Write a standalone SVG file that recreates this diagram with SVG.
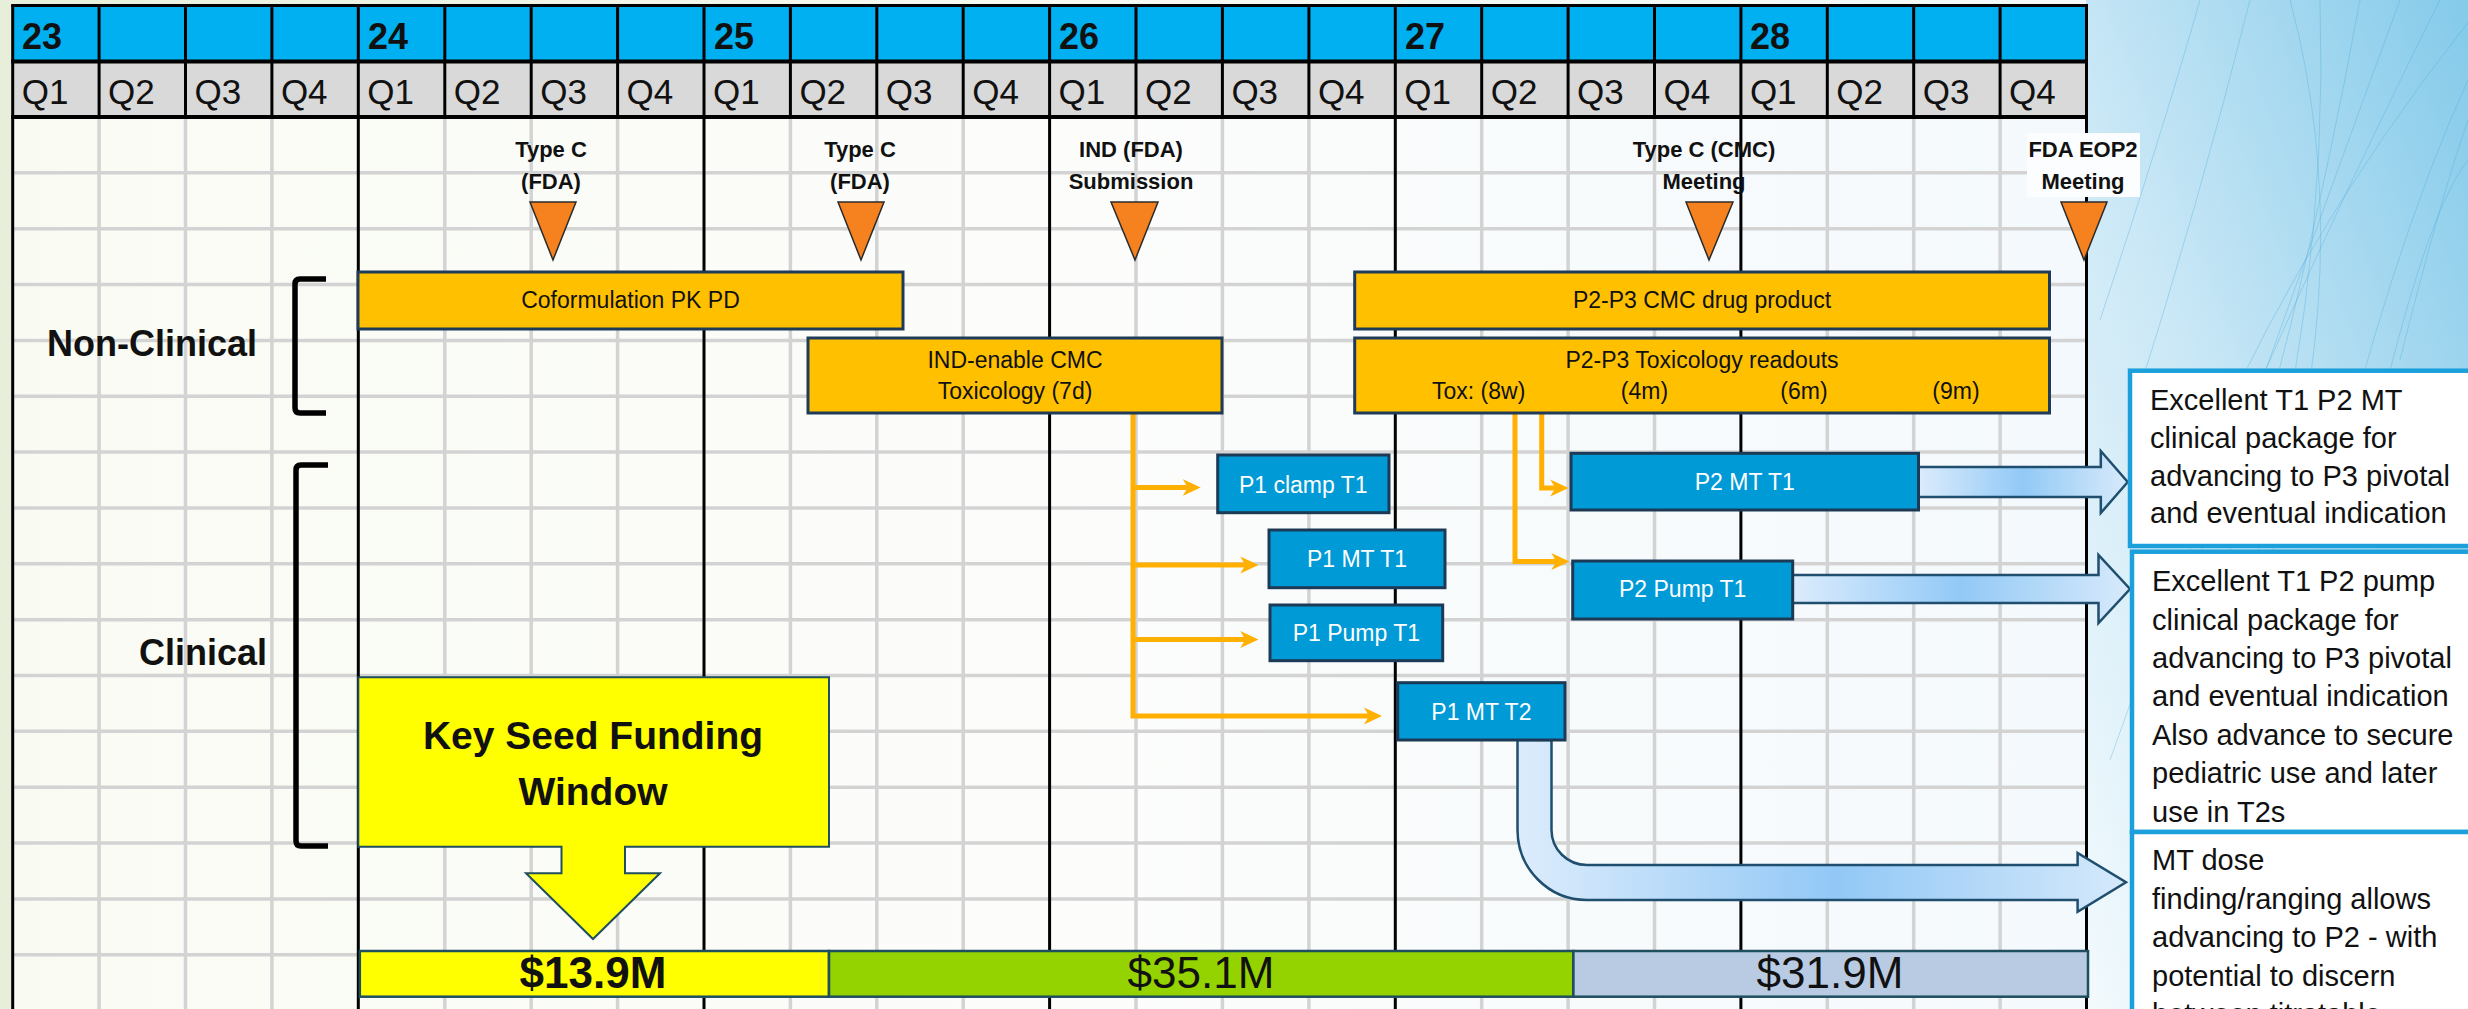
<svg xmlns="http://www.w3.org/2000/svg" width="2468" height="1009" viewBox="0 0 2468 1009">
<defs>
<style>
.t{font-family:"Liberation Sans",Arial,sans-serif;fill:#111}
.hy{font-size:36px;font-weight:bold}
.hq{font-size:35px}
.ms{font-size:22px;font-weight:bold;text-anchor:middle}
.lbl{font-size:36px;font-weight:bold}
.bx{font-size:23px;text-anchor:middle}
.wb{font-size:23px;text-anchor:middle;fill:#fff}
.side{font-size:29px}
.gh{stroke:#d3d3d3;stroke-width:3.5}
.gv{stroke:#d3d3d3;stroke-width:3.5}
.bk{stroke:#000;stroke-width:3}
.org{fill:#ffc000;stroke:#1f3b57;stroke-width:3}
.blu{fill:#009ad6;stroke:#1c3a56;stroke-width:3}
.tri{fill:#f5821f;stroke:#2b2b2b;stroke-width:1.5;stroke-linejoin:miter}
.con{fill:none;stroke:#ffb000;stroke-width:5;stroke-linejoin:miter}
.brk{fill:none;stroke:#000;stroke-width:5.5}
.sbox{fill:#fff;stroke:#1ba0dc;stroke-width:4.5}
.big{stroke:#1f4e6e;stroke-width:2.5;stroke-linejoin:miter}
.streak{fill:none;stroke:#4aa9da;stroke-width:1;opacity:.35}
</style>
<marker id="oa" viewBox="0 0 18 18" refX="8" refY="9" markerWidth="18" markerHeight="18" markerUnits="userSpaceOnUse" orient="auto">
<path d="M0,0.5 L18,9 L0,17.5 L5,9 Z" fill="#ffb000"/>
</marker>
<linearGradient id="bgL" x1="0" y1="0" x2="1" y2="0">
<stop offset="0" stop-color="#e7efda"/>
<stop offset="0.4" stop-color="#f6f9f0"/>
<stop offset="1" stop-color="#f2f8fc"/>
</linearGradient>
<linearGradient id="bgR" x1="0" y1="1" x2="1" y2="0">
<stop offset="0" stop-color="#f3fafd"/>
<stop offset="0.45" stop-color="#cbe8f6"/>
<stop offset="1" stop-color="#84caea"/>
</linearGradient>
<linearGradient id="gridF" x1="0" y1="0" x2="1" y2="0">
<stop offset="0" stop-color="#f9fbf3"/>
<stop offset="0.5" stop-color="#fcfdfb"/>
<stop offset="1" stop-color="#f4f9fd"/>
</linearGradient>
<linearGradient id="ga1" gradientUnits="userSpaceOnUse" x1="1918" y1="0" x2="2128" y2="0">
<stop offset="0" stop-color="#dcecfc"/>
<stop offset="0.5" stop-color="#92c9f6"/>
<stop offset="1" stop-color="#d8eafb"/>
</linearGradient>
<linearGradient id="ga2" gradientUnits="userSpaceOnUse" x1="1792" y1="0" x2="2130" y2="0">
<stop offset="0" stop-color="#dcecfc"/>
<stop offset="0.5" stop-color="#92c9f6"/>
<stop offset="1" stop-color="#d8eafb"/>
</linearGradient>
<linearGradient id="ga3" gradientUnits="userSpaceOnUse" x1="1510" y1="0" x2="2126" y2="0">
<stop offset="0" stop-color="#deedfc"/>
<stop offset="0.53" stop-color="#92c8f6"/>
<stop offset="1" stop-color="#d6e9fb"/>
</linearGradient>
</defs>

<g id="background">
<rect x="0" y="0" width="2468" height="1009" fill="url(#bgL)"/>
<rect x="2086" y="0" width="382" height="1009" fill="url(#bgR)"/>
<path class="streak" d="M2110,760 Q2230,420 2440,0"/>
<path class="streak" d="M2150,700 Q2260,380 2400,0"/>
<path class="streak" d="M2200,650 Q2300,330 2360,0"/>
<path class="streak" d="M2240,620 Q2330,300 2320,0"/>
<path class="streak" d="M2270,560 Q2360,260 2290,0"/>
<path class="streak" d="M2320,540 Q2390,250 2468,80"/>
<path class="streak" d="M2360,500 Q2420,220 2468,160"/>
<path class="streak" d="M2130,420 Q2200,200 2250,0"/>
<path class="streak" d="M2100,320 Q2160,140 2200,0"/>
<path class="streak" d="M2400,360 Q2440,200 2468,120"/>
<path class="streak" d="M2180,520 Q2280,260 2470,20"/>
</g>

<g id="grid">
<rect x="12.7" y="117" width="2073.8" height="892" fill="url(#gridF)"/>
<g class="gh">
<line x1="12.7" y1="172.85" x2="2086.5" y2="172.85"/>
<line x1="12.7" y1="228.7" x2="2086.5" y2="228.7"/>
<line x1="12.7" y1="284.55" x2="2086.5" y2="284.55"/>
<line x1="12.7" y1="340.4" x2="2086.5" y2="340.4"/>
<line x1="12.7" y1="396.25" x2="2086.5" y2="396.25"/>
<line x1="12.7" y1="452.1" x2="2086.5" y2="452.1"/>
<line x1="12.7" y1="507.95" x2="2086.5" y2="507.95"/>
<line x1="12.7" y1="563.8" x2="2086.5" y2="563.8"/>
<line x1="12.7" y1="619.65" x2="2086.5" y2="619.65"/>
<line x1="12.7" y1="675.5" x2="2086.5" y2="675.5"/>
<line x1="12.7" y1="731.35" x2="2086.5" y2="731.35"/>
<line x1="12.7" y1="787.2" x2="2086.5" y2="787.2"/>
<line x1="12.7" y1="843.05" x2="2086.5" y2="843.05"/>
<line x1="12.7" y1="898.9" x2="2086.5" y2="898.9"/>
<line x1="12.7" y1="954.75" x2="2086.5" y2="954.75"/>
</g>
<g class="gv">
<line x1="99.1" y1="117" x2="99.1" y2="1009"/>
<line x1="185.5" y1="117" x2="185.5" y2="1009"/>
<line x1="271.9" y1="117" x2="271.9" y2="1009"/>
<line x1="444.8" y1="117" x2="444.8" y2="1009"/>
<line x1="531.2" y1="117" x2="531.2" y2="1009"/>
<line x1="617.6" y1="117" x2="617.6" y2="1009"/>
<line x1="790.4" y1="117" x2="790.4" y2="1009"/>
<line x1="876.8" y1="117" x2="876.8" y2="1009"/>
<line x1="963.2" y1="117" x2="963.2" y2="1009"/>
<line x1="1136" y1="117" x2="1136" y2="1009"/>
<line x1="1222.4" y1="117" x2="1222.4" y2="1009"/>
<line x1="1308.9" y1="117" x2="1308.9" y2="1009"/>
<line x1="1481.7" y1="117" x2="1481.7" y2="1009"/>
<line x1="1568.1" y1="117" x2="1568.1" y2="1009"/>
<line x1="1654.5" y1="117" x2="1654.5" y2="1009"/>
<line x1="1827.3" y1="117" x2="1827.3" y2="1009"/>
<line x1="1913.7" y1="117" x2="1913.7" y2="1009"/>
<line x1="2000.1" y1="117" x2="2000.1" y2="1009"/>
</g>
<g class="bk">
<line x1="12.7" y1="117" x2="12.7" y2="1009"/>
<line x1="358.3" y1="117" x2="358.3" y2="1009"/>
<line x1="704" y1="117" x2="704" y2="1009"/>
<line x1="1049.6" y1="117" x2="1049.6" y2="1009"/>
<line x1="1395.3" y1="117" x2="1395.3" y2="1009"/>
<line x1="1740.9" y1="117" x2="1740.9" y2="1009"/>
<line x1="2086.5" y1="117" x2="2086.5" y2="1009"/>
</g>
</g>

<g id="header">
<rect x="12.7" y="5" width="2073.8" height="56" fill="#00b0f0"/>
<rect x="12.7" y="61" width="2073.8" height="56" fill="#d9d9d9"/>
<g class="bk">
<line x1="11.2" y1="5.5" x2="2088" y2="5.5"/>
<line x1="11.2" y1="61.5" x2="2088" y2="61.5" stroke-width="4"/>
<line x1="11.2" y1="117" x2="2088" y2="117" stroke-width="4"/>
<line x1="12.7" y1="5" x2="12.7" y2="117"/>
<line x1="99.1" y1="5" x2="99.1" y2="117"/>
<line x1="185.5" y1="5" x2="185.5" y2="117"/>
<line x1="271.9" y1="5" x2="271.9" y2="117"/>
<line x1="358.3" y1="5" x2="358.3" y2="117"/>
<line x1="444.8" y1="5" x2="444.8" y2="117"/>
<line x1="531.2" y1="5" x2="531.2" y2="117"/>
<line x1="617.6" y1="5" x2="617.6" y2="117"/>
<line x1="704" y1="5" x2="704" y2="117"/>
<line x1="790.4" y1="5" x2="790.4" y2="117"/>
<line x1="876.8" y1="5" x2="876.8" y2="117"/>
<line x1="963.2" y1="5" x2="963.2" y2="117"/>
<line x1="1049.6" y1="5" x2="1049.6" y2="117"/>
<line x1="1136" y1="5" x2="1136" y2="117"/>
<line x1="1222.4" y1="5" x2="1222.4" y2="117"/>
<line x1="1308.9" y1="5" x2="1308.9" y2="117"/>
<line x1="1395.3" y1="5" x2="1395.3" y2="117"/>
<line x1="1481.7" y1="5" x2="1481.7" y2="117"/>
<line x1="1568.1" y1="5" x2="1568.1" y2="117"/>
<line x1="1654.5" y1="5" x2="1654.5" y2="117"/>
<line x1="1740.9" y1="5" x2="1740.9" y2="117"/>
<line x1="1827.3" y1="5" x2="1827.3" y2="117"/>
<line x1="1913.7" y1="5" x2="1913.7" y2="117"/>
<line x1="2000.1" y1="5" x2="2000.1" y2="117"/>
<line x1="2086.5" y1="5" x2="2086.5" y2="117"/>
</g>
<g class="t hy">
<text x="22" y="49">23</text>
<text x="368" y="49">24</text>
<text x="714" y="49">25</text>
<text x="1059" y="49">26</text>
<text x="1405" y="49">27</text>
<text x="1750" y="49">28</text>
</g>
<g class="t hq">
<text x="21.7" y="104">Q1</text>
<text x="108.1" y="104">Q2</text>
<text x="194.5" y="104">Q3</text>
<text x="280.9" y="104">Q4</text>
<text x="367.3" y="104">Q1</text>
<text x="453.8" y="104">Q2</text>
<text x="540.2" y="104">Q3</text>
<text x="626.6" y="104">Q4</text>
<text x="713" y="104">Q1</text>
<text x="799.4" y="104">Q2</text>
<text x="885.8" y="104">Q3</text>
<text x="972.2" y="104">Q4</text>
<text x="1058.6" y="104">Q1</text>
<text x="1145" y="104">Q2</text>
<text x="1231.4" y="104">Q3</text>
<text x="1317.9" y="104">Q4</text>
<text x="1404.3" y="104">Q1</text>
<text x="1490.7" y="104">Q2</text>
<text x="1577.1" y="104">Q3</text>
<text x="1663.5" y="104">Q4</text>
<text x="1749.9" y="104">Q1</text>
<text x="1836.3" y="104">Q2</text>
<text x="1922.7" y="104">Q3</text>
<text x="2009.1" y="104">Q4</text>
</g>
</g>

<g id="section-nonclinical">
<path class="brk" d="M326,279 H300 Q295,279 295,284 V408 Q295,413 300,413 H326"/>
<text class="t lbl" x="47" y="356">Non-Clinical</text>
</g>
<g id="section-clinical">
<path class="brk" d="M328,465 H301 Q296,465 296,470 V841 Q296,846 301,846 H328"/>
<text class="t lbl" x="267" y="665" text-anchor="end">Clinical</text>
</g>

<g id="milestone-typec-1">
<text class="t ms" x="551" y="157">Type C</text>
<text class="t ms" x="551" y="189">(FDA)</text>
<polygon class="tri" points="530,202 576,202 553,260"/>
</g>
<g id="milestone-typec-2">
<text class="t ms" x="860" y="157">Type C</text>
<text class="t ms" x="860" y="189">(FDA)</text>
<polygon class="tri" points="838,202 884,202 861,260"/>
</g>
<g id="milestone-ind">
<text class="t ms" x="1131" y="157">IND (FDA)</text>
<text class="t ms" x="1131" y="189">Submission</text>
<polygon class="tri" points="1111,202 1158,202 1135,260"/>
</g>
<g id="milestone-typec-cmc">
<text class="t ms" x="1704" y="157">Type C (CMC)</text>
<text class="t ms" x="1704" y="189">Meeting</text>
<polygon class="tri" points="1686,202 1733,202 1709,260"/>
</g>
<g id="milestone-eop2">
<rect x="2027" y="133" width="113" height="64" fill="#fbfdfe"/>
<text class="t ms" x="2083" y="157">FDA EOP2</text>
<text class="t ms" x="2083" y="189">Meeting</text>
<polygon class="tri" points="2061,202 2107,202 2084,260"/>
</g>

<g id="connectors">
<path class="con" d="M1133,413 V716 H1372" marker-end="url(#oa)"/>
<path class="con" d="M1133,487.5 H1190.7" marker-end="url(#oa)"/>
<path class="con" d="M1133,565 H1248.3" marker-end="url(#oa)"/>
<path class="con" d="M1133,639.5 H1248.3" marker-end="url(#oa)"/>
<path class="con" d="M1541.7,413 V488 H1558.3" marker-end="url(#oa)"/>
<path class="con" d="M1515,413 V561.5 H1559.3" marker-end="url(#oa)"/>
<path class="big" fill="url(#ga1)" d="M1918.5,467 H2100.8 V451 L2127.7,482 L2100.8,513 V497 H1918.5 Z"/>
<path class="big" fill="url(#ga2)" d="M1792,575 H2098.5 V555 L2130,589 L2098.5,623 V603 H1792 Z"/>
<path class="big" fill="url(#ga3)" d="M1517.5,740 V830 A69.5,70 0 0 0 1587,900 H2077.6 V911.7 L2126,882.3 L2077.6,853 V865 H1587 A35.5,35 0 0 1 1551.5,830 V740 Z"/>
</g>

<g id="node-coformulation">
<rect class="org" x="358" y="272" width="545" height="57"/>
<text class="t bx" x="630.5" y="308">Coformulation PK PD</text>
</g>
<g id="node-ind-enable">
<rect class="org" x="808" y="338" width="414" height="75"/>
<text class="t bx" x="1015" y="368">IND-enable CMC</text>
<text class="t bx" x="1015" y="399">Toxicology (7d)</text>
</g>
<g id="node-p2p3-cmc">
<rect class="org" x="1354.7" y="272" width="694.8" height="57"/>
<text class="t bx" x="1702" y="308">P2-P3 CMC drug product</text>
</g>
<g id="node-p2p3-tox">
<rect class="org" x="1354.7" y="338" width="694.8" height="75"/>
<text class="t bx" x="1702" y="368">P2-P3 Toxicology readouts</text>
<text class="t bx" x="1478.7" y="399">Tox: (8w)</text>
<text class="t bx" x="1644.5" y="399">(4m)</text>
<text class="t bx" x="1804" y="399">(6m)</text>
<text class="t bx" x="1956" y="399">(9m)</text>
</g>

<g id="node-p1-clamp-t1">
<rect class="blu" x="1217.7" y="455" width="171.3" height="57.7"/>
<text class="t wb" x="1303.3" y="493">P1 clamp T1</text>
</g>
<g id="node-p1-mt-t1">
<rect class="blu" x="1269" y="530" width="176" height="57.7"/>
<text class="t wb" x="1357" y="567">P1 MT T1</text>
</g>
<g id="node-p1-pump-t1">
<rect class="blu" x="1270" y="605" width="172.7" height="55.7"/>
<text class="t wb" x="1356.4" y="641">P1 Pump T1</text>
</g>
<g id="node-p1-mt-t2">
<rect class="blu" x="1397.7" y="682.7" width="167.3" height="57.3"/>
<text class="t wb" x="1481.4" y="719.5">P1 MT T2</text>
</g>
<g id="node-p2-mt-t1">
<rect class="blu" x="1571" y="453.3" width="347.5" height="56.7"/>
<text class="t wb" x="1744.8" y="490">P2 MT T1</text>
</g>
<g id="node-p2-pump-t1">
<rect class="blu" x="1572.7" y="561" width="220" height="58"/>
<text class="t wb" x="1682.7" y="597">P2 Pump T1</text>
</g>

<g id="node-key-seed">
<path d="M358.3,677.3 H829 V846.7 H625 V873.3 H660 L593,939 L526,873.3 H561.5 V846.7 H358.3 Z" fill="#ffff00" stroke="#1f4e5f" stroke-width="2"/>
<text class="t" x="593" y="749" font-size="39" font-weight="bold" text-anchor="middle">Key Seed Funding</text>
<text class="t" x="593" y="805" font-size="39" font-weight="bold" text-anchor="middle">Window</text>
</g>

<g id="node-funding">
<rect x="359.8" y="951" width="469.2" height="45.7" fill="#ffff00" stroke="#1f4e5f" stroke-width="2.5"/>
<rect x="829" y="951" width="744.4" height="45.7" fill="#94d300" stroke="#1f4e5f" stroke-width="2.5"/>
<rect x="1573.4" y="951" width="514.6" height="45.7" fill="#b9cbe3" stroke="#1f4e5f" stroke-width="2.5"/>
<text class="t" x="593" y="988" font-size="44" font-weight="bold" text-anchor="middle">$13.9M</text>
<text class="t" x="1201" y="988" font-size="44" text-anchor="middle">$35.1M</text>
<text class="t" x="1830" y="988" font-size="44" text-anchor="middle">$31.9M</text>
</g>

<g id="note-mt">
<rect class="sbox" x="2130" y="370.7" width="360" height="175.3"/>
<g class="t side">
<text x="2150" y="410">Excellent T1 P2 MT</text>
<text x="2150" y="447.8">clinical package for</text>
<text x="2150" y="485.6">advancing to P3 pivotal</text>
<text x="2150" y="523.4">and eventual indication</text>
</g>
</g>
<g id="note-pump">
<rect class="sbox" x="2132" y="551.7" width="360" height="280.3"/>
<g class="t side">
<text x="2152" y="591">Excellent T1 P2 pump</text>
<text x="2152" y="629.5">clinical package for</text>
<text x="2152" y="668">advancing to P3 pivotal</text>
<text x="2152" y="706.3">and eventual indication</text>
<text x="2152" y="744.8">Also advance to secure</text>
<text x="2152" y="783.2">pediatric use and later</text>
<text x="2152" y="821.7">use in T2s</text>
</g>
</g>
<g id="note-dose">
<rect class="sbox" x="2132" y="832" width="360" height="200"/>
<g class="t side">
<text x="2152" y="870">MT dose</text>
<text x="2152" y="908.5">finding/ranging allows</text>
<text x="2152" y="947">advancing to P2 - with</text>
<text x="2152" y="985.5">potential to discern</text>
<text x="2152" y="1024">between titratable</text>
</g>
</g>
</svg>
